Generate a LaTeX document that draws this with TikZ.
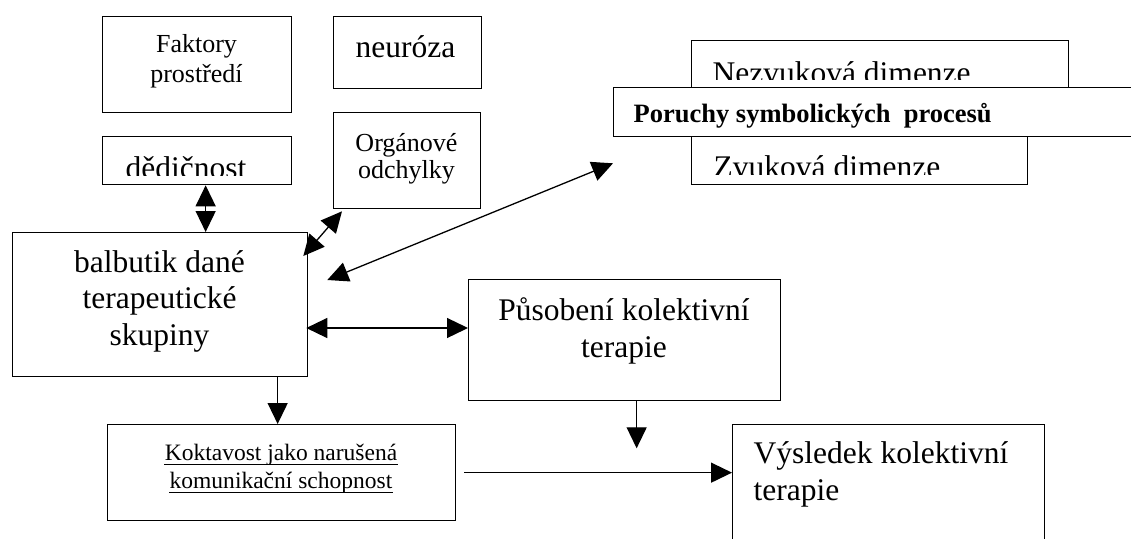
\documentclass[tikz,border=0pt]{standalone}
\usepackage{fontspec}
\setmainfont{Liberation Serif}
\usetikzlibrary{arrows.meta,calc}
\begin{document}
\begin{tikzpicture}[x=1pt,y=-1pt,line width=1.3pt,
  box/.style={draw,line width=1.3pt,inner sep=0pt,anchor=north west},
  txt/.style={inner sep=0pt,anchor=base},
  txtl/.style={inner sep=0pt,anchor=base west},
  big/.style={font=\fontsize{31.5}{37}\selectfont},
  mid/.style={font=\fontsize{26}{30}\selectfont},
  sml/.style={font=\fontsize{23.5}{28}\selectfont},
  bld/.style={font=\fontsize{26.5}{30}\selectfont\bfseries},
  tip/.style={-{Triangle[length=21pt,width=20pt]}},
  tips/.style={{Triangle[length=21pt,width=20pt]}-{Triangle[length=21pt,width=20pt]}},
  uline/.style={line width=1pt}]
\useasboundingbox (0,0) rectangle (1131,538);
\clip (0,0) rectangle (1131,538);

% Faktory prostredi
\node[box,minimum width=189pt,minimum height=96pt] (fak) at (102,16) {};
\node[txt,mid] (fak1) at (196.5,52) {Faktory};
\node[txt,mid] (fak2) at (196.5,82) {prostředí};

% neuroza
\node[box,minimum width=148pt,minimum height=72pt] (neu) at (333,16) {};
\node[txtl,big] (neut) at (355,57) {neuróza};

% dedicnost
\node[box,minimum width=189pt,minimum height=48pt] (ded) at (102,136) {};
\begin{scope}
  \clip (102,136) rectangle (291,175);
  \node[txtl,big] (dedt) at (125,178) {dědičnost};
\end{scope}

% Organove odchylky
\node[box,minimum width=147pt,minimum height=96pt] (org) at (333,112) {};
\node[txt,mid] (org1) at (406.5,151) {Orgánové};
\node[txt,mid] (org2) at (406.5,178) {odchylky};

% balbutik
\node[box,minimum width=295pt,minimum height=144pt] (bal) at (12,232) {};
\node[txt,big] (bal1) at (159.5,272) {balbutik dané};
\node[txt,big] (bal2) at (159.5,308) {terapeutické};
\node[txt,big] (bal3) at (159.5,345) {skupiny};

% Pusobeni
\node[box,minimum width=312pt,minimum height=121pt] (pus) at (468,279) {};
\node[txt,big] (pus1) at (624,320) {Působení kolektivní};
\node[txt,big] (pus2) at (624,357) {terapie};

% Koktavost
\node[box,minimum width=348pt,minimum height=96pt] (kok) at (107,424) {};
\node[txt,sml] (kok1) at (281,460) {Koktavost jako narušená};
\node[txt,sml] (kok2) at (281,488) {komunikační schopnost};
\draw[uline] ([yshift=-4pt]kok1.base west) -- ([yshift=-4pt]kok1.base east);
\draw[uline] ([yshift=-4pt]kok2.base west) -- ([yshift=-4pt]kok2.base east);

% Vysledek
\node[box,minimum width=312pt,minimum height=140pt] (vys) at (732,424) {};
\node[txtl,big] (vys1) at (753,463) {Výsledek kolektivní};
\node[txtl,big] (vys2) at (753,500) {terapie};

% Nezvukova / Zvukova / Poruchy
\node[box,minimum width=377pt,minimum height=60pt] (nez) at (691,40) {};
\begin{scope}
  \clip (691,40) rectangle (1068,79);
  \node[txtl,big] (nezt) at (712,83) {Nezvuková dimenze};
\end{scope}
\node[box,minimum width=336pt,minimum height=64pt] (zvu) at (691,120) {};
\begin{scope}
  \clip (691,136) rectangle (1027,174);
  \node[txtl,big] (zvut) at (713,177) {Zvuková dimenze};
\end{scope}
\node[box,fill=white,minimum width=532pt,minimum height=49pt] (por) at (613,87) {};
\node[txtl,bld] (port) at (633,122) {Poruchy symbolických\ \ procesů};

% connectors
\draw[tips] ([xshift=8.5pt]ded.south) -- ([xshift=8.5pt]ded.south |- bal.north);
\draw[tips] ([xshift=9pt,yshift=-2pt]org.south west) -- ([xshift=-5pt,yshift=-24pt]bal.north east);
\draw[tips] ([xshift=19pt,yshift=-48pt]bal.north east) -- ([yshift=-26pt]por.south west);
\draw[tips] ([xshift=-2pt]bal.east |- pus.north west) ++(0,49) coordinate (bp) -- (pus.west |- bp);
\draw[tip] ([xshift=117.5pt]bal.south) -- ([xshift=117.5pt]bal.south |- kok.north);
\coordinate (pend) at ([xshift=12pt,yshift=-47pt]pus.south);
\draw[tip] ([xshift=12pt]pus.south) -- (pend);
\draw[tip] ([xshift=8pt]kok.east) -- (vys.west |- kok.east);
\end{tikzpicture}
\end{document}
